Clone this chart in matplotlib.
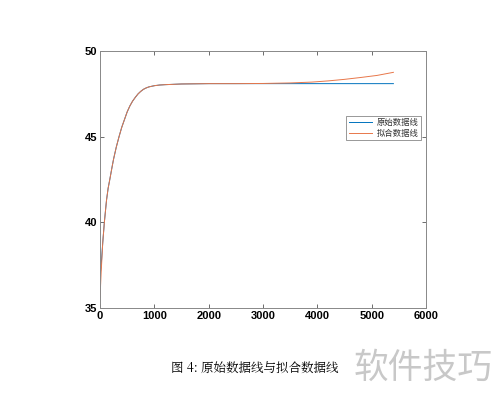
import matplotlib
matplotlib.use('Agg')
import matplotlib.pyplot as plt

plt.rcParams['font.family'] = ['Liberation Sans', 'Noto Sans CJK SC', 'DejaVu Sans']

# 原始数据线
x_raw = [0, 20, 50, 80, 120, 150, 180, 220, 250, 300, 350, 400, 450, 500,
         550, 600, 650, 700, 750, 800, 850, 900, 1000, 1100, 1200, 1350,
         1500, 1750, 2000, 2500, 3000, 3500, 4000, 4500, 5000, 5400]
y_raw = [36.9, 37.4, 38.8, 40.0, 41.3, 42.0, 42.5, 43.2, 43.7, 44.4, 45.0,
         45.55, 46.0, 46.45, 46.8, 47.08, 47.3, 47.5, 47.65, 47.77, 47.85,
         47.91, 47.98, 48.02, 48.04, 48.06, 48.08, 48.09, 48.10, 48.10,
         48.10, 48.10, 48.10, 48.10, 48.10, 48.10]

# 拟合数据线
x_fit = [0, 20, 50, 80, 120, 150, 180, 220, 250, 300, 350, 400, 450, 500,
         550, 600, 650, 700, 750, 800, 850, 900, 1000, 1100, 1200, 1350,
         1500, 1750, 2000, 2500, 3000, 3500, 3900, 4200, 4500, 4800, 5100,
         5400]
y_fit = [35.6, 37.0, 38.8, 40.0, 41.3, 42.0, 42.5, 43.2, 43.7, 44.4, 45.0,
         45.55, 46.0, 46.45, 46.8, 47.08, 47.3, 47.5, 47.65, 47.77, 47.85,
         47.91, 47.98, 48.02, 48.04, 48.06, 48.08, 48.09, 48.10, 48.10,
         48.11, 48.14, 48.19, 48.26, 48.35, 48.46, 48.58, 48.76]

fig = plt.figure(figsize=(5, 3.96), dpi=100)
ax = fig.add_axes([0.2, 0.222, 0.652, 0.649])

ax.plot(x_raw, y_raw, color='#0072BD', linewidth=0.7, label='原始数据线')
ax.plot(x_fit, y_fit, color='#E8774A', linewidth=0.7, label='拟合数据线')

ax.set_xlim(0, 6000)
ax.set_ylim(35, 50)
ax.set_xticks([0, 1000, 2000, 3000, 4000, 5000, 6000])
ax.set_yticks([35, 40, 45, 50])
ax.tick_params(direction='in', top=True, right=True, length=3, width=0.6,
               colors='#555555', labelcolor='black', labelsize=8, pad=2)
for s in ax.spines.values():
    s.set_color('#888888')
    s.set_linewidth(0.7)
for lab in ax.get_xticklabels() + ax.get_yticklabels():
    lab.set_fontweight('bold')

leg = ax.legend(loc='upper right', bbox_to_anchor=(0.997, 0.765), fontsize=6,
                fancybox=False, framealpha=1, edgecolor='#888888',
                handlelength=2.8, handletextpad=0.5, borderpad=0.3,
                labelspacing=0.2)
leg.get_frame().set_linewidth(0.6)
for t in leg.get_texts():
    t.set_family(['Noto Sans CJK SC', 'DejaVu Sans'])
    t.set_color('#333333')

fig.text(0.51, 0.071, '图 4: 原始数据线与拟合数据线', ha='center', va='center',
         fontsize=9, family=['Noto Serif CJK SC', 'Noto Sans CJK SC', 'DejaVu Sans'])
fig.text(0.847, 0.071, '软件技巧', ha='center', va='center', fontsize=25,
         color='#c8c8c8', family=['Noto Sans CJK SC', 'DejaVu Sans'])

fig.savefig('out.png', dpi=100)
